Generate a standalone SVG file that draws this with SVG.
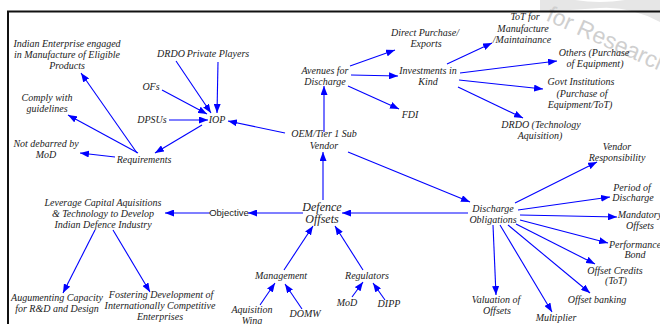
<svg xmlns="http://www.w3.org/2000/svg" width="660" height="324" viewBox="0 0 660 324">
<defs>
<marker id="ah" markerUnits="userSpaceOnUse" markerWidth="9" markerHeight="7" refX="9" refY="3.5" orient="auto">
<path d="M0,0 L9,3.5 L0,7 z" fill="#0000ff"/>
</marker>
<style>
.t{font-family:"Liberation Serif","Times New Roman",serif;font-style:italic;font-size:10px;fill:#222;text-anchor:middle}
.big{font-size:12px}
.s{font-family:"Liberation Sans",Arial,sans-serif;font-size:9.5px;fill:#222;text-anchor:middle}
.c line{stroke:#0000ff;stroke-width:1.1;marker-end:url(#ah)}
.wm{font-family:"Liberation Sans",Arial,sans-serif;font-size:23px;fill:#cfcfcf}
</style>
</defs>
<rect width="660" height="324" fill="#fff"/>
<g id="watermark">
<path d="M540,0 L575,0 Q600,4 625,0 L660,0 L660,22 Q630,6 600,8 Q570,10 540,12 Z" fill="#e6e6e6"/>
<text class="wm" x="545" y="20" transform="rotate(24 545 20)">for Research in</text>
</g>
<g id="border">
<line x1="7" y1="11.5" x2="660" y2="11.5" stroke="#111" stroke-width="2"/>
<line x1="8" y1="11" x2="8" y2="324" stroke="#111" stroke-width="2"/>
</g>
<g id="connectors" class="c">
<line x1="137" y1="153" x2="81" y2="73"/>
<line x1="138" y1="153" x2="68" y2="115"/>
<line x1="115" y1="157" x2="80" y2="153"/>
<line x1="202" y1="125" x2="155" y2="153"/>
<line x1="176" y1="61" x2="211" y2="113"/>
<line x1="218" y1="62" x2="217" y2="113"/>
<line x1="162" y1="90" x2="207" y2="114"/>
<line x1="169" y1="120" x2="208" y2="120"/>
<line x1="285" y1="133" x2="228" y2="121"/>
<line x1="324" y1="132" x2="324" y2="86"/>
<line x1="350" y1="66" x2="395" y2="50"/>
<line x1="351" y1="75" x2="398" y2="76"/>
<line x1="348" y1="86" x2="399" y2="109"/>
<line x1="447" y1="64" x2="492" y2="43"/>
<line x1="460" y1="73" x2="557" y2="61"/>
<line x1="459" y1="80" x2="543" y2="89"/>
<line x1="458" y1="87" x2="523" y2="118"/>
<line x1="348" y1="152" x2="470" y2="202"/>
<line x1="323" y1="200" x2="323" y2="152"/>
<line x1="303" y1="213" x2="248" y2="213"/>
<line x1="210" y1="213" x2="165" y2="213"/>
<line x1="468" y1="213" x2="342" y2="213"/>
<line x1="515" y1="203" x2="597" y2="162"/>
<line x1="518" y1="210" x2="610" y2="197"/>
<line x1="520" y1="215" x2="617" y2="217"/>
<line x1="520" y1="220" x2="608" y2="243"/>
<line x1="516" y1="224" x2="595" y2="264"/>
<line x1="508" y1="225" x2="590" y2="293"/>
<line x1="500" y1="225" x2="552" y2="312"/>
<line x1="493" y1="225" x2="496" y2="295"/>
<line x1="95" y1="230" x2="63" y2="293"/>
<line x1="113" y1="230" x2="150" y2="292"/>
<line x1="284" y1="270" x2="313" y2="226"/>
<line x1="363" y1="270" x2="335" y2="226"/>
<line x1="260" y1="305" x2="275" y2="283"/>
<line x1="302" y1="309" x2="285" y2="284"/>
<line x1="352" y1="297" x2="363" y2="282"/>
<line x1="385" y1="300" x2="373" y2="283"/>
</g>
<g id="n_indian" class="t"><text x="67" y="47">Indian Enterprise engaged</text><text x="67" y="58">in Manufacture of Eligible</text><text x="67" y="69">Products</text></g>
<g id="n_drdo" class="t"><text x="171" y="57">DRDO</text></g>
<g id="n_private" class="t"><text x="218" y="57">Private Players</text></g>
<g id="n_ofs" class="t"><text x="151" y="90">OFs</text></g>
<g id="n_comply" class="t"><text x="47" y="101">Comply with</text><text x="47" y="112">guidelines</text></g>
<g id="n_dpsus" class="t"><text x="152" y="123">DPSUs</text></g>
<g id="n_iop" class="t"><text x="217" y="123">IOP</text></g>
<g id="n_notdebarred" class="t"><text x="46" y="147">Not debarred by</text><text x="46" y="158">MoD</text></g>
<g id="n_requirements" class="t"><text x="144" y="163">Requirements</text></g>
<g id="n_leverage" class="t"><text x="103" y="206">Leverage Capital Aquisitions</text><text x="103" y="217">&amp; Technology to Develop</text><text x="103" y="228">Indian Defence Industry</text></g>
<g id="n_objective" class="s"><text x="229" y="216">Objective</text></g>
<g id="n_oem" class="t"><text x="324" y="137">OEM/Tier 1 Sub</text><text x="324" y="149">Vendor</text></g>
<g id="n_avenues" class="t"><text x="325" y="74">Avenues for</text><text x="325" y="85">Discharge</text></g>
<g id="n_direct" class="t"><text x="425" y="36">Direct Purchase/</text><text x="426" y="47">Exports</text></g>
<g id="n_invest" class="t"><text x="428" y="74">Investments in</text><text x="428" y="85">Kind</text></g>
<g id="n_fdi" class="t"><text x="410" y="118">FDI</text></g>
<g id="n_tot" class="t"><text x="525" y="20">ToT for</text><text x="523" y="32">Manufacture</text><text x="522" y="43">/Maintainance</text></g>
<g id="n_others" class="t"><text x="594" y="56">Others (Purchase</text><text x="595" y="67">of Equipment)</text></g>
<g id="n_govt" class="t"><text x="581" y="85">Govt Institutions</text><text x="582" y="97">(Purchase of</text><text x="580" y="108">Equipment/ToT)</text></g>
<g id="n_drdotech" class="t"><text x="541" y="128">DRDO (Technology</text><text x="540" y="139">Aquisition)</text></g>
<g id="n_vendor" class="t"><text x="617" y="150">Vendor</text><text x="617" y="161">Responsibility</text></g>
<g id="n_period" class="t"><text x="632" y="191">Period of</text><text x="633" y="201">Discharge</text></g>
<g id="n_obligations" class="t"><text x="493" y="212">Discharge</text><text x="493" y="223">Obligations</text></g>
<g id="n_mandatory" class="t"><text x="640" y="218">Mandatory</text><text x="640" y="229">Offsets</text></g>
<g id="n_performance" class="t"><text x="635" y="248">Performance</text><text x="635" y="258">Bond</text></g>
<g id="n_credits" class="t"><text x="615" y="274">Offset Credits</text><text x="616" y="284">(ToT)</text></g>
<g id="n_banking" class="t"><text x="597" y="303">Offset banking</text></g>
<g id="n_valuation" class="t"><text x="496" y="303">Valuation of</text><text x="497" y="314">Offsets</text></g>
<g id="n_multiplier" class="t"><text x="556" y="321">Multiplier</text></g>
<g id="n_defence" class="t big"><text x="322" y="211">Defence</text><text x="322" y="223">Offsets</text></g>
<g id="n_management" class="t"><text x="281" y="279">Management</text></g>
<g id="n_regulators" class="t"><text x="367" y="279">Regulators</text></g>
<g id="n_aquisition" class="t"><text x="252" y="313">Aquisition</text><text x="252" y="324">Wing</text></g>
<g id="n_domw" class="t"><text x="305" y="317">DOMW</text></g>
<g id="n_mod" class="t"><text x="347" y="306">MoD</text></g>
<g id="n_dipp" class="t"><text x="389" y="307">DIPP</text></g>
<g id="n_augment" class="t"><text x="57" y="301">Augumenting Capacity</text><text x="57" y="312">for R&amp;D and Design</text></g>
<g id="n_foster" class="t"><text x="161" y="298">Fostering Development of</text><text x="160" y="309">Internationally Competitive</text><text x="160" y="320">Enterprises</text></g>
</svg>
